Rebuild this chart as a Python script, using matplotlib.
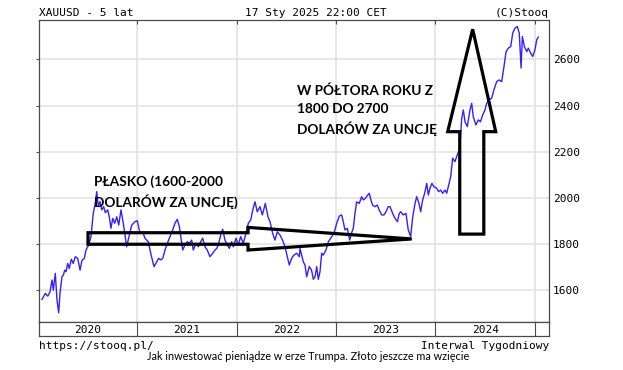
import matplotlib.pyplot as plt
from matplotlib.patches import Polygon

# XAUUSD, tygodniowe zamknięcia
lata = [2020.041, 2020.074, 2020.099, 2020.122, 2020.142, 2020.155, 2020.175, 2020.192, 2020.209, 2020.222,
        2020.242, 2020.256, 2020.270, 2020.283, 2020.300, 2020.316, 2020.336, 2020.356, 2020.376, 2020.400,
        2020.424, 2020.444, 2020.467, 2020.484, 2020.511, 2020.534, 2020.557, 2020.577, 2020.592, 2020.608,
        2020.625, 2020.642, 2020.662, 2020.678, 2020.702, 2020.718, 2020.735, 2020.753, 2020.773, 2020.793,
        2020.813, 2020.836, 2020.859, 2020.893, 2020.920, 2020.944, 2020.977, 2021.000, 2021.027, 2021.054,
        2021.077, 2021.111, 2021.135, 2021.168, 2021.195, 2021.215, 2021.235, 2021.256, 2021.279, 2021.302,
        2021.329, 2021.356, 2021.379, 2021.402, 2021.423, 2021.437, 2021.457, 2021.480, 2021.503, 2021.523,
        2021.547, 2021.563, 2021.591, 2021.614, 2021.638, 2021.658, 2021.681, 2021.704, 2021.731, 2021.759,
        2021.782, 2021.799, 2021.815, 2021.839, 2021.859, 2021.882, 2021.905, 2021.926, 2021.950, 2021.966,
        2021.993, 2022.016, 2022.040, 2022.066, 2022.094, 2022.117, 2022.141, 2022.161, 2022.184, 2022.207,
        2022.234, 2022.258, 2022.288, 2022.315, 2022.335, 2022.362, 2022.385, 2022.408, 2022.436, 2022.461,
        2022.486, 2022.509, 2022.529, 2022.553, 2022.576, 2022.604, 2022.630, 2022.637, 2022.670, 2022.687,
        2022.704, 2022.730, 2022.753, 2022.771, 2022.788, 2022.805, 2022.821, 2022.838, 2022.855, 2022.871,
        2022.898, 2022.922, 2022.956, 2022.979, 2023.006, 2023.032, 2023.056, 2023.072, 2023.089, 2023.113,
        2023.137, 2023.154, 2023.173, 2023.190, 2023.207, 2023.233, 2023.257, 2023.274, 2023.296, 2023.318,
        2023.334, 2023.350, 2023.367, 2023.391, 2023.414, 2023.434, 2023.459, 2023.482, 2023.502, 2023.525,
        2023.542, 2023.569, 2023.593, 2023.617, 2023.636, 2023.650, 2023.676, 2023.703, 2023.726, 2023.750,
        2023.771, 2023.794, 2023.811, 2023.834, 2023.851, 2023.871, 2023.891, 2023.912, 2023.928, 2023.944,
        2023.964, 2023.984, 2024.010, 2024.032, 2024.052, 2024.072, 2024.096, 2024.113, 2024.129, 2024.153,
        2024.173, 2024.196, 2024.219, 2024.239, 2024.252, 2024.264, 2024.280, 2024.297, 2024.320, 2024.347,
        2024.364, 2024.380, 2024.407, 2024.431, 2024.453, 2024.475, 2024.498, 2024.515, 2024.541, 2024.565,
        2024.588, 2024.616, 2024.639, 2024.666, 2024.689, 2024.710, 2024.733, 2024.757, 2024.777, 2024.800,
        2024.823, 2024.843, 2024.861, 2024.874, 2024.894, 2024.918, 2024.934, 2024.958, 2024.978, 2025.001,
        2025.018, 2025.034]
ceny = [1560, 1586, 1574, 1593, 1644, 1600, 1673, 1557, 1502, 1586,
        1658, 1665, 1687, 1680, 1716, 1694, 1734, 1716, 1745, 1738,
        1687, 1730, 1738, 1774, 1796, 1832, 1933, 1977, 2027, 1962,
        1984, 1948, 1962, 1936, 1948, 1918, 1868, 1911, 1890, 1918,
        1882, 1948, 1890, 1788, 1839, 1882, 1897, 1901, 1846, 1853,
        1825, 1810, 1760, 1702, 1723, 1738, 1731, 1738, 1774, 1803,
        1832, 1861, 1890, 1907, 1875, 1832, 1774, 1796, 1810, 1803,
        1817, 1774, 1803, 1788, 1810, 1825, 1788, 1774, 1745, 1760,
        1774, 1781, 1796, 1839, 1864, 1817, 1796, 1781, 1810, 1788,
        1825, 1796, 1832, 1803, 1846, 1890, 1904, 1947, 1983, 1940,
        1962, 1926, 1976, 1918, 1897, 1846, 1817, 1853, 1839, 1817,
        1788, 1745, 1709, 1738, 1752, 1760, 1745, 1781, 1723, 1709,
        1658, 1702, 1687, 1647, 1658, 1702, 1647, 1680, 1760, 1752,
        1774, 1810, 1832, 1846, 1890, 1921, 1926, 1897, 1861, 1868,
        1817, 1846, 1868, 1933, 1983, 1976, 2005, 1991, 1999, 2012,
        2020, 1991, 1969, 1962, 1969, 1947, 1926, 1926, 1940, 1962,
        1962, 1933, 1911, 1897, 1933, 1940, 1926, 1933, 1861, 1832,
        1918, 1976, 2005, 1976, 1940, 1991, 2020, 2063, 2012, 2041,
        2063, 2048, 2043, 2027, 2034, 2020, 2034, 2020, 2048, 2092,
        2172, 2157, 2186, 2207, 2265, 2345, 2381, 2330, 2309, 2381,
        2410, 2352, 2316, 2338, 2330, 2360, 2381, 2410, 2425, 2432,
        2468, 2504, 2511, 2504, 2569, 2634, 2649, 2656, 2714, 2736,
        2743, 2714, 2563, 2699, 2656, 2634, 2649, 2627, 2613, 2642,
        2685, 2697]

lata_siatki = [2021, 2022, 2023, 2024, 2025]
etykiety_lat = [2020, 2021, 2022, 2023, 2024]
poziomy = [1600, 1800, 2000, 2200, 2400, 2600]

# strzalki (wspolrzedne w jednostkach danych: rok, cena)
strzalka_pozioma = [(2020.504, 1849), (2022.114, 1849), (2022.114, 1872), (2023.761, 1822),
                    (2022.114, 1774), (2022.114, 1799), (2020.504, 1799)]
strzalka_pionowa = [(2024.244, 1843), (2024.244, 2287), (2024.123, 2287), (2024.374, 2731),
                    (2024.606, 2287), (2024.486, 2287), (2024.486, 1843)]

W, H = 623, 370
x0, x1 = 2020.011, 2025.142
mono = "DejaVu Sans Mono"
ramka = "#4a4a4a"

fig = plt.figure(figsize=(W / 100, H / 100), dpi=100)
ax = fig.add_axes([39 / W, 1 - 322 / H, 510 / W, 302 / H])
ax.plot(lata, ceny, color="#3a1cff", lw=1.0, zorder=3)
ax.set_xlim(x0, x1)
ax.set_ylim(1462, 2771)
ax.set_xticks(lata_siatki)
ax.set_yticks(poziomy)
ax.grid(True, color="#e3e3e3", lw=1.2)
ax.set_axisbelow(True)
ax.tick_params(axis="x", bottom=False, labelbottom=False, top=True, direction="in", length=3, color=ramka)
ax.tick_params(axis="y", left=True, right=False, labelleft=False, labelright=True,
               direction="out", length=2, color=ramka, labelsize=8, pad=1)
for lab in ax.get_yticklabels():
    lab.set_fontfamily(mono)
for s in ax.spines.values():
    s.set_color(ramka)
    s.set_linewidth(0.9)

for pts in [strzalka_pozioma, strzalka_pionowa]:
    ax.add_patch(Polygon(pts, closed=True, fill=False, edgecolor="black", lw=2.3,
                         joinstyle="miter", zorder=4))

ax.text(2020.565, 2025, "PŁASKO (1600-2000\nDOLARÓW ZA UNCJĘ)", family="Lato", weight="bold",
        fontsize=9.8, linespacing=1.55, va="center", ha="left")
ax.text(2022.603, 2380, "W PÓŁTORA ROKU Z\n1800 DO 2700\nDOLARÓW ZA UNCJĘ", family="Lato",
        weight="bold", fontsize=9.8, linespacing=1.55, va="center", ha="left")

# pasek z latami
axl = fig.add_axes([39 / W, 1 - 336 / H, 510 / W, 14 / H])
axl.set_xlim(x0, x1)
axl.set_ylim(0, 1)
axl.set_xticks([])
axl.set_yticks([])
for s in axl.spines.values():
    s.set_color(ramka)
    s.set_linewidth(0.9)
for r in lata_siatki:
    axl.axvline(r, color=ramka, lw=0.8)
for r in etykiety_lat:
    axl.text(r + 0.5, 0.45, str(r), family=mono, fontsize=8, ha="center", va="center")

fig.text(39 / W, 1 - 12.5 / H, "XAUUSD - 5 lat", family=mono, fontsize=8, va="center")
fig.text(316 / W, 1 - 12.5 / H, "17 Sty 2025 22:00 CET", family=mono, fontsize=8, va="center", ha="center")
fig.text(549 / W, 1 - 12.5 / H, "(C)Stooq", family=mono, fontsize=8, va="center", ha="right")
fig.text(39 / W, 1 - 346 / H, "https://stooq.pl/", family=mono, fontsize=8, va="center")
fig.text(549 / W, 1 - 346 / H, "Interwal Tygodniowy", family=mono, fontsize=8, va="center", ha="right")
fig.text(308 / W, 1 - 357 / H, "Jak inwestować pieniądze w erze Trumpa. Złoto jeszcze ma wzięcie",
         family="Lato", fontsize=7.8, va="center", ha="center")

fig.savefig("out.png", dpi=100)
